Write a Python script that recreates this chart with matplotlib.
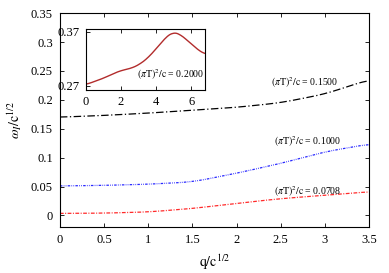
import numpy as np
import matplotlib
matplotlib.use("Agg")
import matplotlib.pyplot as plt

plt.rcParams['font.family'] = ['Liberation Serif', 'DejaVu Serif']
plt.rcParams['mathtext.fontset'] = 'stix'

# main panel: omega_I / c^(1/2) vs q / c^(1/2)
q = [0.0, 0.5, 1.0, 1.5, 2.0, 2.5, 3.0, 3.5]
w_1500 = [0.170, 0.173, 0.177, 0.182, 0.187, 0.195, 0.210, 0.235]
w_1000 = [0.051, 0.052, 0.054, 0.058, 0.073, 0.090, 0.110, 0.1235]
w_0708 = [0.0035, 0.004, 0.006, 0.012, 0.021, 0.029, 0.035, 0.041]

# inset: (pi T)^2/c = 0.2000
q_in = [0.0, 0.95, 1.9, 2.67, 3.04, 3.5, 4.0, 4.57, 4.95, 5.33, 5.9, 6.46, 6.8]
w_in = [0.272, 0.283, 0.297, 0.303, 0.309, 0.320, 0.338, 0.360, 0.369, 0.366, 0.350, 0.334, 0.328]

labels = [r'$(\pi\mathrm{T})^2/\mathrm{c}$ = 0.1500', r'$(\pi\mathrm{T})^2/\mathrm{c}$ = 0.1000',
          r'$(\pi\mathrm{T})^2/\mathrm{c}$ = 0.0708', r'$(\pi\mathrm{T})^2/\mathrm{c}$ = 0.2000']


def smooth(x, y, n=200):
    # linear interpolation, then a running mean to round the corners
    xs = np.linspace(x[0], x[-1], n)
    ys = np.interp(xs, x, y)
    k = 9
    pad = np.pad(ys, k, mode='edge')
    ys = np.convolve(pad, np.ones(2 * k + 1) / (2 * k + 1), mode='same')[k:-k]
    return xs, ys


fig = plt.figure(figsize=(3.89, 2.73), dpi=100)
ax = fig.add_axes([0.154, 0.1685, 0.7946, 0.7835])

x, y = smooth(q, w_1500)
ax.plot(x, y, color='black', lw=0.9, dashes=(6, 2, 1, 2))
x, y = smooth(q, w_1000)
ax.plot(x, y, color='#2a2aff', lw=0.9, dashes=(2, 1, 0.6, 1, 0.6, 1))
x, y = smooth(q, w_0708)
ax.plot(x, y, color='#ff2a2a', lw=0.9, dashes=(3, 1.2, 0.8, 1.2))

ax.set_xlim(0, 3.5)
ax.set_ylim(-0.02, 0.35)
ax.set_xticks([0, 0.5, 1, 1.5, 2, 2.5, 3, 3.5])
ax.set_xticklabels(['0', '0.5', '1', '1.5', '2', '2.5', '3', '3.5'])
ax.set_yticks([0, 0.05, 0.1, 0.15, 0.2, 0.25, 0.3, 0.35])
ax.set_yticklabels(['0', '0.05', '0.1', '0.15', '0.2', '0.25', '0.3', '0.35'])
ax.tick_params(direction='in', top=True, right=True, labelsize=9, length=3, width=0.6, pad=5)
for s in ax.spines.values():
    s.set_linewidth(0.8)
ax.set_xlabel(r'$\mathrm{q/c}^{1/2}$', fontsize=10, labelpad=5)
ax.set_ylabel(r'$\omega_I/\mathrm{c}^{1/2}$', fontsize=10, labelpad=5)

ax.text(2.77, 0.229, labels[0], fontsize=7, ha='center', va='center')
ax.text(2.8, 0.127, labels[1], fontsize=7, ha='center', va='center')
ax.text(2.8, 0.042, labels[2], fontsize=7, ha='center', va='center')

ins = fig.add_axes([0.220, 0.670, 0.308, 0.2245])
x, y = smooth(q_in, w_in)
ins.plot(x, y, color='#b22c2c', lw=1.0)
ins.set_xlim(0, 6.8)
ins.set_ylim(0.262, 0.375)
ins.set_xticks([0, 2, 4, 6])
ins.set_yticks([0.27, 0.37])
ins.set_yticklabels(['0.27', '0.37'])
ins.tick_params(direction='in', top=True, labelsize=9, length=3, width=0.6, pad=4)
for s in ins.spines.values():
    s.set_linewidth(0.8)
ins.text(6.75, 0.291, labels[3], fontsize=7, ha='right', va='center')

fig.savefig('out.png', dpi=100)
